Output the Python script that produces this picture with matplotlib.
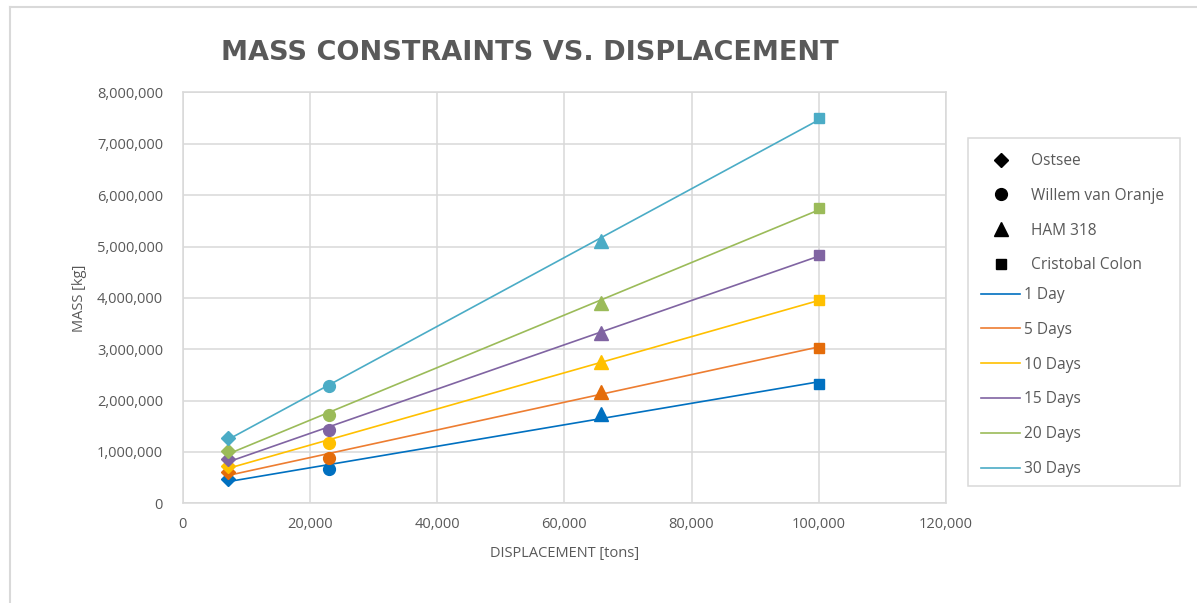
import numpy as np
import matplotlib
matplotlib.use("Agg")
import matplotlib.pyplot as plt
from matplotlib.lines import Line2D
from matplotlib.patches import Rectangle

plt.rcParams['font.family'] = ['Open Sans', 'DejaVu Sans']

# Ships and their displacement [tons]
ships = ["Ostsee", "Willem van Oranje", "HAM 318", "Cristobal Colon"]
ship_markers = ["D", "o", "^", "s"]
ship_marker_sizes = [7, 8.5, 9.5, 7.5]
displacement = [7200, 23000, 65700, 100000]

# Mass constraints [kg] per deployment duration
durations = ["1 Day", "5 Days", "10 Days", "15 Days", "20 Days", "30 Days"]
mass_1_day = [470000, 660000, 1730000, 2330000]
mass_5_days = [600000, 880000, 2170000, 3030000]
mass_10_days = [730000, 1170000, 2760000, 3950000]
mass_15_days = [860000, 1430000, 3320000, 4830000]
mass_20_days = [1020000, 1720000, 3910000, 5750000]
mass_30_days = [1280000, 2290000, 5100000, 7510000]
masses = [mass_1_day, mass_5_days, mass_10_days, mass_15_days, mass_20_days, mass_30_days]

marker_colors = ["#0070C0", "#E46C0A", "#FFC000", "#8064A2", "#9BBB59", "#4BACC6"]
line_colors = ["#0070C0", "#ED7D31", "#FFC000", "#8064A2", "#9BBB59", "#4BACC6"]

x_ticks = [0, 20000, 40000, 60000, 80000, 100000, 120000]
y_ticks = [0, 1000000, 2000000, 3000000, 4000000, 5000000, 6000000, 7000000, 8000000]

TEXT = "#595959"
GRID = "#D9D9D9"

W, H = 1197, 603
fig = plt.figure(figsize=(W / 100, H / 100), dpi=100)
fig.patch.set_facecolor("white")

ax = fig.add_axes([182.5 / W, 1 - 503.3 / H, (946 - 182.5) / W, (503.3 - 92.5) / H])

x = np.array(displacement, dtype=float)
for vals, mc, lc in zip(masses, marker_colors, line_colors):
    y = np.array(vals, dtype=float)
    # linear trendline across the displacement range
    slope, intercept = np.polyfit(x, y, 1)
    xs = np.array([x.min(), x.max()])
    ax.plot(xs, slope * xs + intercept, color=lc, lw=1.2, zorder=3)
    for xi, yi, m, ms in zip(x, y, ship_markers, ship_marker_sizes):
        ax.plot([xi], [yi], marker=m, markersize=ms, color=mc, linestyle="none", zorder=4)

ax.set_xlim(0, 120000)
ax.set_ylim(0, 8000000)
ax.set_xticks(x_ticks)
ax.set_yticks(y_ticks)
ax.set_xticklabels([f"{v:,}" for v in x_ticks])
ax.set_yticklabels([f"{v:,}" for v in y_ticks])
ax.tick_params(length=0, labelsize=10.5, labelcolor=TEXT)
ax.tick_params(axis="y", pad=14)
ax.tick_params(axis="x", pad=10)
ax.grid(True, color=GRID, lw=1.1)
ax.set_axisbelow(True)
for s in ax.spines.values():
    s.set_color(GRID)
    s.set_linewidth(1.1)

ax.set_xlabel("DISPLACEMENT [tons]", fontsize=10.5, color=TEXT, labelpad=10)
ax.set_ylabel("MASS [kg]", fontsize=10.5, color=TEXT, labelpad=7)

fig.text(530 / W, 1 - 53 / H, "MASS CONSTRAINTS VS. DISPLACEMENT", fontsize=19.5,
         fontweight="bold", family="DejaVu Sans", color=TEXT, ha="center", va="center")

# Legend frame
fig.patches.append(Rectangle((968 / W, 1 - 486 / H), 212 / W, 348 / H,
                             transform=fig.transFigure, facecolor="white",
                             edgecolor=GRID, lw=1.1, zorder=1))

LEG_FS = 11.2
ship_handles = [Line2D([], [], marker=m, color="black", linestyle="none", markersize=ms)
                for m, ms in zip(ship_markers, ship_marker_sizes)]
leg1 = fig.legend(ship_handles, ships, loc="upper left",
                  bbox_to_anchor=(981 / W, 1 - 153 / H), frameon=False,
                  fontsize=LEG_FS, labelcolor=TEXT, handlelength=2.6,
                  handletextpad=0.6, labelspacing=1.21, borderpad=0,
                  borderaxespad=0)
line_handles = [Line2D([], [], color=c, lw=1.2) for c in line_colors]
leg2 = fig.legend(line_handles, durations, loc="upper left",
                  bbox_to_anchor=(981 / W, 1 - 287 / H), frameon=False,
                  fontsize=LEG_FS, labelcolor=TEXT, handlelength=2.5,
                  handletextpad=0.25, labelspacing=1.21, borderpad=0,
                  borderaxespad=0)

# Chart area outline
fig.add_artist(Line2D([9.5 / W, 9.5 / W], [0, 1 - 7 / H], transform=fig.transFigure,
                      color=GRID, lw=1.5))
fig.add_artist(Line2D([9.5 / W, 1], [1 - 7 / H, 1 - 7 / H], transform=fig.transFigure,
                      color=GRID, lw=1.5))

fig.savefig("out.png", dpi=100)
